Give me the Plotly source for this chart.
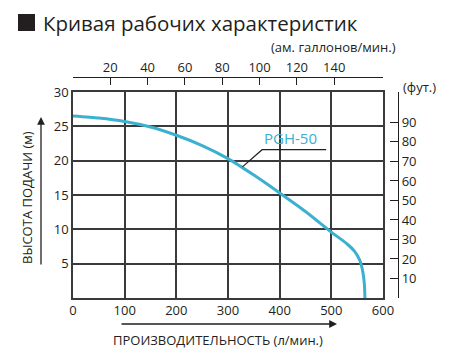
import plotly.graph_objects as go

# Data
flow_lpm = [0, 50, 100, 150, 200, 250, 300, 350, 400, 450, 500, 530, 545, 555, 561, 564, 565]
head_m = [26.5, 26.2, 25.7, 24.9, 23.7, 22.2, 20.3, 17.9, 15.3, 12.6, 9.6, 7.9, 6.8, 5.5, 3.8, 2.0, 0.0]
x_ticks = [0, 100, 200, 300, 400, 500, 600]
y_ticks = [5, 10, 15, 20, 25, 30]
gpm_ticks = [20, 40, 60, 80, 100, 120, 140]
ft_ticks = [10, 20, 30, 40, 50, 60, 70, 80, 90]
series_name = "PGH-50"

LPM_PER_GPM = 3.78541
M_PER_FT = 0.3048

# Geometry (px)
W, H = 460, 357
L, R, T, B = 73, 398, 77, 298
plot_right = 383
plot_top = 92
pw = R - L
ph = B - T
xdom = (plot_right - L) / pw
ydom = (B - plot_top) / ph

x_max = 600
y_max = 30
gpm_max = x_max / LPM_PER_GPM / xdom
m_top = y_max / ydom
ft_max = m_top / M_PER_FT

ink = "#231f20"
grid = "#3a3a3a"
teal = "#3cb0cf"
font = "Open Sans"

fig = go.Figure()
fig.add_trace(go.Scatter(x=flow_lpm, y=head_m, mode="lines",
                         line=dict(color=teal, width=3, shape="spline", smoothing=0.6),
                         showlegend=False, hoverinfo="skip"))
fig.add_trace(go.Scatter(x=[0], y=[0], xaxis="x2", yaxis="y2", mode="markers",
                         marker=dict(opacity=0), showlegend=False, hoverinfo="skip"))

fig.update_layout(
    width=W, height=H,
    margin=dict(l=L, r=W - R, t=T, b=H - B, pad=0),
    paper_bgcolor="white", plot_bgcolor="white",
    font=dict(family=font, size=13, color=ink),
    xaxis=dict(domain=[0, xdom], range=[0, x_max], tickvals=x_ticks,
               showgrid=True, gridcolor=grid, gridwidth=1.5,
               showline=True, linecolor=grid, linewidth=1.5, mirror=True,
               ticks="", zeroline=False, tickfont=dict(size=13)),
    yaxis=dict(domain=[0, ydom], range=[0, y_max], tickvals=y_ticks,
               showgrid=True, gridcolor=grid, gridwidth=1.5,
               showline=True, linecolor=grid, linewidth=1.5, mirror=True,
               ticks="", zeroline=False, tickfont=dict(size=13)),
    xaxis2=dict(overlaying="x", anchor="free", position=1, side="top",
                domain=[0, 1], range=[0, gpm_max], tickvals=gpm_ticks,
                showgrid=False, zeroline=False, showline=True, linecolor=ink, linewidth=1.2,
                ticks="inside", ticklen=7, tickcolor=ink, tickwidth=1.2,
                tickfont=dict(size=13)),
    yaxis2=dict(overlaying="y", anchor="free", position=1, side="right",
                domain=[0, 1], range=[0, ft_max], tickvals=ft_ticks,
                showgrid=False, zeroline=False, showline=True, linecolor=ink, linewidth=1.2,
                ticks="inside", ticklen=8, tickcolor=ink, tickwidth=1.2,
                tickfont=dict(size=13)),
)

def px_x(px):
    return (px - L) / pw

def px_y(py):
    return (B - py) / ph

annotations = [
    dict(text="Кривая рабочих характеристик", x=px_x(41), y=px_y(23), xanchor="left", yanchor="middle",
         font=dict(size=20.5, color=ink), showarrow=False),
    dict(text="(ам. галлонов/мин.)", x=px_x(398), y=px_y(47), xanchor="right", yanchor="middle",
         font=dict(size=13, color=ink), showarrow=False),
    dict(text="(фут.)", x=px_x(401), y=px_y(87), xanchor="left", yanchor="middle",
         font=dict(size=13, color=ink), showarrow=False),
    dict(text="ВЫСОТА ПОДАЧИ (м)", x=px_x(27), y=px_y(198), xanchor="center", yanchor="middle",
         textangle=-90, font=dict(size=13, color=ink), showarrow=False),
    dict(text="ПРОИЗВОДИТЕЛЬНОСТЬ (л/мин.)", x=px_x(218), y=px_y(340), xanchor="center", yanchor="middle",
         font=dict(size=13, color=ink), showarrow=False),
    # arrows
    dict(x=px_x(41), y=px_y(117), ax=0, ay=149, axref="pixel", ayref="pixel",
         text="", showarrow=True, arrowhead=2, arrowsize=1.2,
         arrowwidth=1.3, arrowcolor=ink),
    dict(x=px_x(337), y=px_y(324), ax=-217, ay=0, axref="pixel", ayref="pixel",
         text="", showarrow=True, arrowhead=2, arrowsize=1.2,
         arrowwidth=1.3, arrowcolor=ink),
    dict(text=series_name, x=366, y=21.6, xref="x", yref="y", xanchor="left", yanchor="bottom",
         font=dict(size=15, color=teal), showarrow=False),
]
for a in annotations:
    a.setdefault("xref", "paper")
    a.setdefault("yref", "paper")
fig.update_layout(annotations=annotations)

# title square marker
fig.add_shape(type="rect", xref="paper", yref="paper",
              x0=px_x(18), x1=px_x(35), y0=px_y(31), y1=px_y(14),
              fillcolor=ink, line=dict(width=0))

fig.add_shape(type="path", xref="x", yref="y",
              path="M 328,19.1 L 366,21.6 L 490,21.6",
              line=dict(color=ink, width=1.2))

fig.write_html("out.html")
